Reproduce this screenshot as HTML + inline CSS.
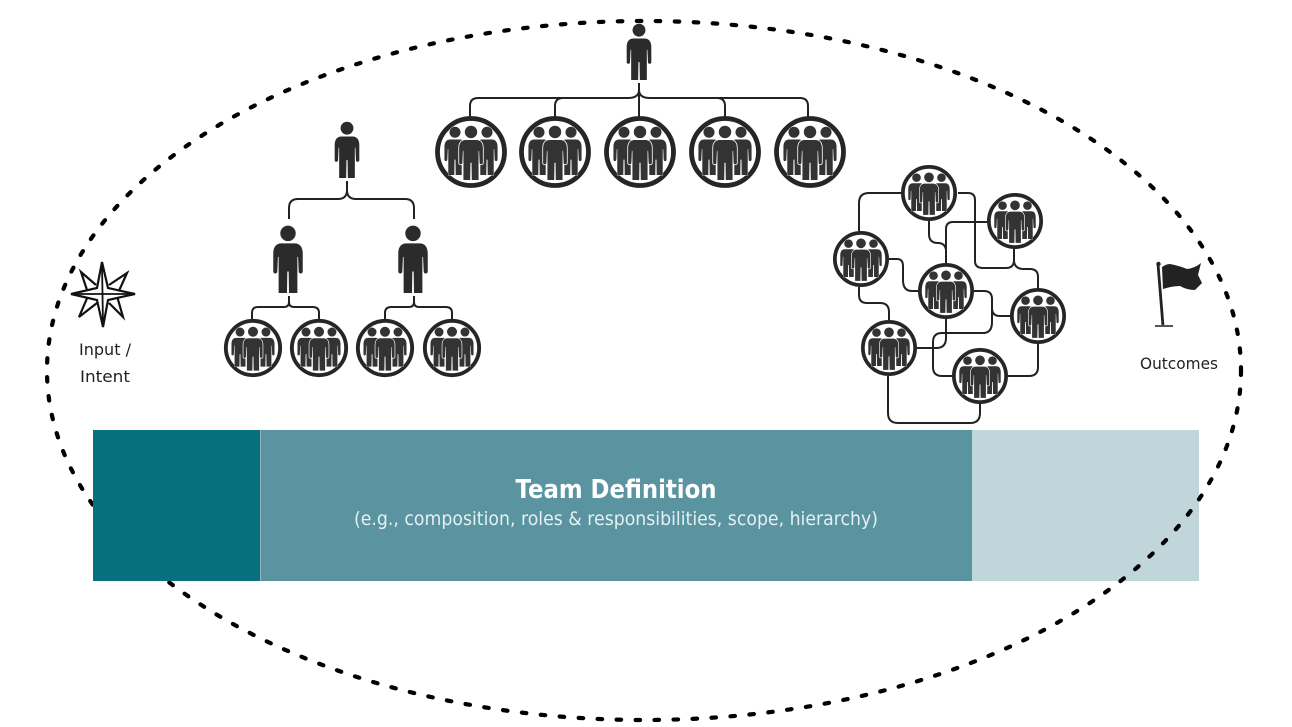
<!DOCTYPE html>
<html>
<head>
<meta charset="utf-8">
<style>
html,body{margin:0;padding:0;background:#fff;width:1292px;height:727px;overflow:hidden}
svg{display:block}
text{font-family:"DejaVu Sans","Liberation Sans",sans-serif}
</style>
</head>
<body>
<svg width="1292" height="727" viewBox="0 0 1292 727" xmlns="http://www.w3.org/2000/svg">
<defs>
<g id="p">
<circle cx="0" cy="11" r="11.500"/>
<path d="M-10 26H10C18 26 22 32 22 41L22 68C22 72 16 72 16 68L15 46L14 46L14 100H1.500L1 68H-1L-1.500 100H-14L-14 46L-15 46L-16 68C-16 72-22 72-22 68L-22 41C-22 32-18 26-10 26Z"/>
</g>
<g id="t">
<circle r="33.500" fill="#fff" stroke="#262626" stroke-width="4.800"/>
<g fill="#333" stroke="#fff" stroke-width="1.400" paint-order="stroke">
<use href="#p" transform="translate(-16,-25) scale(.48)"/>
<use href="#p" transform="translate(16,-25) scale(.48)"/>
<use href="#p" transform="translate(0,-26) scale(.54)" stroke-width="3"/>
</g>
</g>
</defs>

<rect x="972" y="430" width="227" height="151" fill="#c1d6db"/>
<ellipse cx="644" cy="370.500" rx="597" ry="349.500" fill="none" stroke="#000" stroke-width="4.200" stroke-linecap="round" stroke-dasharray="4.500 14.500"/>
<rect x="93" y="430" width="167" height="151" fill="#076f7e"/>
<rect x="260" y="430" width="712" height="151" fill="#5a94a0"/>
<rect x="260" y="430" width="1" height="151" fill="#8fb6bf"/>

<text x="616" y="498" text-anchor="middle" font-size="26" font-weight="700" fill="#fff" textLength="201" lengthAdjust="spacingAndGlyphs">Team Definition</text>
<text x="616" y="525" text-anchor="middle" font-size="19" fill="#e6f0f2" textLength="524" lengthAdjust="spacingAndGlyphs">(e.g., composition, roles &amp; responsibilities, scope, hierarchy)</text>

<!-- connectors -->
<g fill="none" stroke="#222" stroke-width="2">
<path d="M639 83V117"/>
<path d="M470 118V106Q470 98 478 98H628Q639 98 639 90Q639 98 650 98H800Q808 98 808 106V118"/>
<path d="M555 118V106Q555 98 563 98M725 118V106Q725 98 717 98"/>
<path d="M347 181V190Q347 199 338 199H298Q289 199 289 208V219"/>
<path d="M347 190Q347 199 356 199H405Q414 199 414 208V219"/>
<path d="M289 296V302Q289 307 284 307H258Q252 307 252 313V321M289 302Q289 307 294 307H313Q319 307 319 313V321"/>
<path d="M414 296V302Q414 307 409 307H391Q385 307 385 313V321M414 302Q414 307 419 307H446Q452 307 452 313V321"/>
<path d="M901 193H869Q859 193 859 203V231"/>
<path d="M958 193H968Q975 193 975 200V261Q975 268 983 268H1006Q1014 268 1014 260V249"/>
<path d="M1014 260Q1014 269 1024 269H1030Q1038 269 1038 277V288"/>
<path d="M929 221V234Q929 243 938 243Q945 243 946 250V263"/>
<path d="M987 222H953Q946 222 946 229V263"/>
<path d="M889 259H897Q903 259 903 266V280Q903 291 912 291H918"/>
<path d="M859 287V295Q859 303 867 303H880Q889 303 889 312V320"/>
<path d="M974 291H984Q992 291 992 299V308Q992 316 1000 316H1010"/>
<path d="M992 308V322Q992 333 983 333H942Q933 333 933 342V367Q933 376 942 376H952"/>
<path d="M1038 344V367Q1038 376 1029 376H1008"/>
<path d="M917 348H936Q946 348 946 338V319"/>
<path d="M888 376V413Q888 423 898 423H970Q980 423 980 413V404"/>
</g>

<!-- persons -->
<g fill="#2b2b2b">
<use href="#p" transform="translate(639,24) scale(.56)"/>
<use href="#p" transform="translate(347,122) scale(.56)"/>
<use href="#p" transform="translate(288,226) scale(.67)"/>
<use href="#p" transform="translate(413,226) scale(.67)"/>
</g>

<!-- teams -->
<use href="#t" x="471" y="152"/>
<use href="#t" x="555" y="152"/>
<use href="#t" x="640" y="152"/>
<use href="#t" x="725" y="152"/>
<use href="#t" x="810" y="152"/>

<use href="#t" transform="translate(253,348) scale(.81)"/>
<use href="#t" transform="translate(319,348) scale(.81)"/>
<use href="#t" transform="translate(385,348) scale(.81)"/>
<use href="#t" transform="translate(452,348) scale(.81)"/>

<use href="#t" transform="translate(929,193) scale(.78)"/>
<use href="#t" transform="translate(1015,221) scale(.78)"/>
<use href="#t" transform="translate(861,259) scale(.78)"/>
<use href="#t" transform="translate(946,291) scale(.78)"/>
<use href="#t" transform="translate(1038,316) scale(.78)"/>
<use href="#t" transform="translate(889,348) scale(.78)"/>
<use href="#t" transform="translate(980,376) scale(.78)"/>

<!-- compass -->
<g fill="#fff" stroke="#111" stroke-width="2.200" stroke-linejoin="miter">
<path d="M88 293L81 272L96 285M109 285L127 273L118 293M88 296L79 317L97 303M109 303L123 317L117 296"/>
<path d="M102 262L108 288L135 294L108 300L103 327L97 300L71 294L97 288Z"/>
<path d="M73 294H133M102 264L103 325" stroke-width="1.800"/>
</g>
<text x="105" y="355" text-anchor="middle" font-size="16" fill="#222" textLength="52" lengthAdjust="spacingAndGlyphs">Input /</text>
<text x="105" y="382" text-anchor="middle" font-size="16" fill="#222" textLength="50" lengthAdjust="spacingAndGlyphs">Intent</text>

<!-- flag -->
<path d="M1158 264L1163 326" stroke="#222" stroke-width="2.800" fill="none"/>
<circle cx="1158.500" cy="264" r="2.200" fill="#222"/>
<path d="M1155 326H1173" stroke="#555" stroke-width="2" fill="none"/>
<path d="M1162 267Q1166 264 1170 264Q1180 266 1187 269Q1195 268 1201 263L1198 275L1202 283L1195 290Q1187 290 1180 286Q1172 286 1163 289Z" fill="#222"/>
<text x="1179" y="369" text-anchor="middle" font-size="16" fill="#222" textLength="78" lengthAdjust="spacingAndGlyphs">Outcomes</text>
</svg>
</body>
</html>
